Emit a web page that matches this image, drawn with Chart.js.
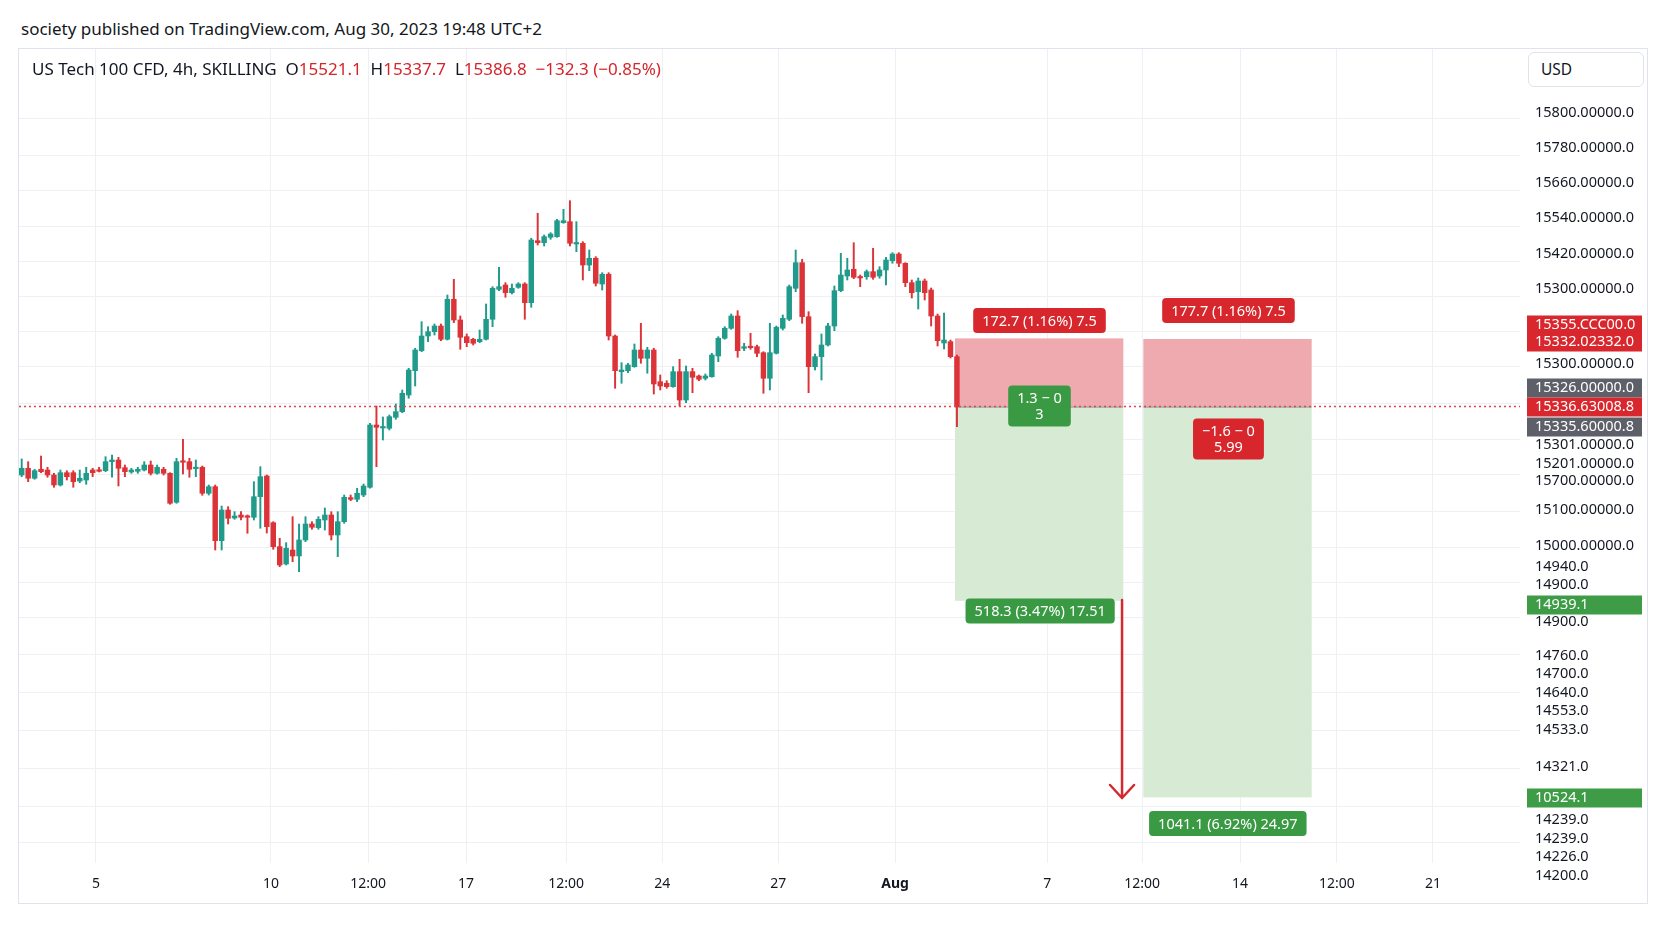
<!DOCTYPE html>
<html>
<head>
<meta charset="utf-8">
<script src="https://cdn.jsdelivr.net/npm/chart.js@4.4.0/dist/chart.umd.min.js"></script>
<style>
  body { margin: 0; background: #fff; width: 1672px; height: 941px; overflow: hidden; font-family: "Noto Sans", sans-serif; color: #131722; }
  #pub { position: absolute; left: 21px; top: 17px; font-size: 17px; line-height: 24px; white-space: pre; }
  #frame { position: absolute; left: 18px; top: 48px; width: 1628px; height: 854px; border: 1px solid #e0e3eb; }
  #legend { position: absolute; left: 13px; top: 8px; font-size: 17px; line-height: 24px; white-space: pre; }
  #legend .r { color: #d5252b; }
  #usd { position: absolute; left: 1509px; top: 3px; width: 102px; height: 33px; padding-left: 12px; border: 1px solid #e0e3eb; border-radius: 6px; font-size: 15.5px; line-height: 33px; background: #fff; }
  canvas { position: absolute; left: 0; top: 0; }
</style>
</head>
<body>
<div id="pub">society published on TradingView.com, Aug 30, 2023 19:48 UTC+2</div>
<div id="frame">
  <canvas id="chart" width="1628" height="854"></canvas>
  <div id="legend">US Tech 100 CFD, 4h, SKILLING  O<span class="r">15521.1</span>  H<span class="r">15337.7</span>  L<span class="r">15386.8</span>  <span class="r">−132.3 (−0.85%)</span></div>
  <div id="usd">USD</div>
</div>
<script>
// 4h candles
const opens = [
  15162.5, 15179.3, 15154.3, 15176.8, 15175, 15162.5, 15137.5, 15168.3, 15168.3, 15147.5,
  15150, 15175, 15175, 15173.3, 15195.8, 15200, 15180.8, 15170, 15171.8, 15175,
  15187.5, 15166.8, 15176.8, 15166.8, 15094.3, 15196.8, 15195.8, 15178.3, 15181.8, 15116.8,
  15133.3, 14998.3, 15075, 15055, 15062.5, 15060, 15056.8, 15108.3, 15160, 15043.3,
  14983.3, 14940, 14975, 14960, 15000, 15040, 15030.8, 15050, 15062.5, 15012.5,
  15045.8, 15105.8, 15101.8, 15112.5, 15131.8, 15287.5, 15280, 15279.3, 15306.8, 15320.8,
  15362.5, 15423.3, 15473.3, 15510, 15520.8, 15535, 15501.8, 15601.8, 15550, 15508.3,
  15501.8, 15495.8, 15501.8, 15551.8, 15626.8, 15637.5, 15618.3, 15631.8, 15640, 15593.3,
  15748.3, 15743.3, 15756.8, 15758.3, 15793.3, 15795.8, 15740, 15741.8, 15687.5, 15704.3,
  15640, 15664.3, 15510, 15420.8, 15423.3, 15433.3, 15475, 15454.3, 15475, 15395.8,
  15391.8, 15383.3, 15420.8, 15350, 15420.8, 15410, 15404.3, 15408.3, 15460, 15504.3,
  15529.3, 15560, 15479.3, 15483.3, 15483.3, 15468.3, 15404.3, 15466.8, 15529.3, 15551.8,
  15629.3, 15693.3, 15558.3, 15433.3, 15458.3, 15487.5, 15535, 15623.3, 15660, 15676.8,
  15658.3, 15658.3, 15670.8, 15660, 15675, 15698.3, 15715, 15691.8, 15643.3, 15620.8,
  15647.5, 15625, 15560, 15492.5, 15495.8, 15458.3
];
const highs = [
  15202.5, 15195.8, 15176.8, 15210, 15181.8, 15166.8, 15175, 15173.3, 15173.3, 15175,
  15181.8, 15179.3, 15181.8, 15208.3, 15212.5, 15206.8, 15187.5, 15179.3, 15181.8, 15195.8,
  15197.5, 15187.5, 15181.8, 15168.3, 15204.3, 15251.8, 15204.3, 15200, 15185, 15137.5,
  15137.5, 15085, 15083.3, 15070.8, 15070.8, 15062.5, 15145.8, 15183.3, 15162.5, 15045.8,
  15004.3, 14993.3, 15058.3, 15040, 15058.3, 15045.8, 15058.3, 15080, 15070.8, 15070.8,
  15112.5, 15112.5, 15129.3, 15140, 15291.8, 15335, 15307.5, 15312.5, 15340, 15375,
  15429.3, 15479.3, 15545.8, 15533.3, 15540, 15540, 15612.5, 15651.8, 15560, 15515,
  15504.3, 15525, 15590, 15633.3, 15681.8, 15643.3, 15640, 15643.3, 15643.3, 15754.3,
  15816.8, 15762.5, 15768.3, 15801.8, 15826.8, 15848.3, 15795.8, 15745.8, 15725, 15708.3,
  15668.3, 15668.3, 15512.5, 15443.3, 15441.8, 15490, 15541.8, 15481.8, 15479.3, 15412.5,
  15398.3, 15433.3, 15451.8, 15435, 15429.3, 15412.5, 15415, 15466.8, 15508.3, 15533.3,
  15565, 15573.3, 15491.8, 15516.8, 15487.5, 15470.8, 15541.8, 15535, 15562.5, 15637.5,
  15725, 15701.8, 15570.8, 15465, 15515, 15541.8, 15635, 15716.8, 15704.3, 15743.3,
  15662.5, 15675, 15729.3, 15683.3, 15706.8, 15718.3, 15718.3, 15693.3, 15650, 15655,
  15652.5, 15630, 15565, 15567.5, 15500, 15462.5
];
const lows = [
  15158.3, 15145.8, 15151.8, 15168.3, 15156.8, 15131.8, 15135, 15150, 15131.8, 15143.3,
  15139.3, 15158.3, 15170, 15170.8, 15156.8, 15135, 15158.3, 15166.8, 15166.8, 15172.5,
  15162.5, 15164.3, 15162.5, 15089.3, 15091.8, 15165, 15156.8, 15158.3, 15111.8, 15112.5,
  14975, 14975, 15040, 15051.8, 15050, 15016.8, 15050, 15029.3, 15017.5, 14976.8,
  14933.3, 14937.5, 14945.8, 14920.8, 14995.8, 15026.8, 15026.8, 15025, 15000, 14958.3,
  15041.8, 15098.3, 15095.8, 15108.3, 15129.3, 15183.3, 15250, 15275, 15301.8, 15318.3,
  15354.3, 15385, 15470.8, 15495.8, 15512.5, 15498.3, 15500, 15543.3, 15476.8, 15483.3,
  15487.5, 15493.3, 15500, 15533.3, 15623.3, 15606.8, 15615, 15629.3, 15551.8, 15581.8,
  15737.5, 15735, 15751.8, 15756.8, 15791.8, 15735, 15720.8, 15650, 15673.3, 15635,
  15625, 15500, 15379.3, 15391.8, 15418.3, 15431.8, 15441.8, 15416.8, 15365, 15375,
  15379.3, 15381.8, 15335, 15343.3, 15368.3, 15398.3, 15400, 15406.8, 15445.8, 15501.8,
  15526.8, 15456.8, 15473.3, 15476.8, 15458.3, 15366.8, 15375, 15465, 15525, 15548.3,
  15620.8, 15541.8, 15368.3, 15425, 15400, 15485, 15523.3, 15620.8, 15650, 15653.3,
  15633.3, 15651.8, 15651.8, 15654.3, 15637.5, 15691.8, 15683.3, 15633.3, 15605, 15577.5,
  15600, 15535, 15485, 15477.5, 15455, 15283.3
];
const closes = [
  15179.3, 15154.3, 15173.3, 15170.8, 15162.5, 15137.5, 15168.3, 15158.3, 15145.8, 15154.3,
  15166.8, 15168.3, 15171.8, 15195.8, 15200, 15179.3, 15170.8, 15175, 15176.8, 15187.5,
  15166.8, 15181.8, 15166.8, 15091.8, 15195.8, 15194.3, 15176.8, 15181.8, 15116.8, 15133.3,
  14998.3, 15075, 15054.3, 15060, 15056.8, 15056.8, 15108.3, 15158.3, 15033.3, 14983.3,
  14937.5, 14979.3, 14960, 15000, 15040, 15031.8, 15051.8, 15062.5, 15012.5, 15045.8,
  15106.8, 15101.8, 15116.8, 15135, 15287.5, 15281.8, 15283.3, 15308.3, 15320.8, 15366.8,
  15425, 15475, 15510, 15520.8, 15535, 15501.8, 15601.8, 15550, 15506.8, 15493.3,
  15491.8, 15501.8, 15551.8, 15629.3, 15633.3, 15618.3, 15629.3, 15640, 15593.3, 15750,
  15743.3, 15758.3, 15765, 15798.3, 15798.3, 15741.8, 15743.3, 15687.5, 15704.3, 15641.8,
  15664.3, 15510, 15423.3, 15425, 15437.5, 15475, 15454.3, 15475, 15390, 15385,
  15383.3, 15420.8, 15350, 15420.8, 15406.8, 15401.8, 15410, 15462.5, 15504.3, 15529.3,
  15560, 15473.3, 15483.3, 15480.8, 15466.8, 15404.3, 15468.3, 15531.8, 15554.3, 15633.3,
  15693.3, 15558.3, 15433.3, 15458.3, 15487.5, 15535, 15623.3, 15662.5, 15675, 15656.8,
  15655, 15670.8, 15656.8, 15675, 15700, 15715, 15691.8, 15643.3, 15618.3, 15647.5,
  15618.3, 15560, 15498.3, 15500, 15458.3, 15333.3
];

const lastPrice = 15333.75;

// time axis (bar index) and its labels
const timeTickPos = [11.5, 38.65, 53.7, 68.9, 84.4, 99.3, 117.3, 135.4, 159.0, 173.7, 188.9, 203.9, 218.8];
const timeTickLabels = ['5', '10', '12:00', '17', '12:00', '24', '27', 'Aug', '7', '12:00', '14', '12:00', '21'];

// price axis labels, as printed
const priceTickPos = [
  16067.5, 15980, 15892.5, 15805, 15715, 15627.5, 15537.5, 15495, 15440, 15380,
  15332.5, 15282.5, 15237.5, 15190, 15147.5, 15075, 14985, 14932.5, 14887.5, 14837.5,
  14795, 14710, 14665, 14617.5, 14572.5, 14525, 14432.5, 14355, 14300, 14252.5,
  14207.5, 14160
];
const priceTickLabels = [
  '15800.00000.0', '15780.00000.0', '15660.00000.0', '15540.00000.0', '15420.00000.0', '15300.00000.0',
  '15355.CCC00.0', '15332.02332.0', '15300.00000.0', '15326.00000.0', '15336.63008.8', '15335.60000.8',
  '15301.00000.0', '15201.00000.0', '15700.00000.0', '15100.00000.0', '15000.00000.0',
  '14940.0', '14900.0', '14939.1', '14900.0', '14760.0', '14700.0', '14640.0', '14553.0',
  '14533.0', '14321.0', '10524.1', '14239.0', '14239.0', '14226.0', '14200.0'
];
const priceTickBadge = [
  null, null, null, null, null, null, '#d9272e', '#d9272e', null, '#5d6068',
  '#d9272e', '#5d6068', null, null, null, null, null, null, null, '#3f9c46',
  null, null, null, null, null, null, null, '#3f9c46', null, null, null, null
];
const gridPrices = [
  16052.5, 15962.5, 15875, 15785, 15697.5, 15607.5, 15520, 15432.5, 15342.5, 15252.5,
  15162.5, 15072.5, 14982.5, 14895, 14807.5, 14715, 14620, 14525, 14430, 14335, 14245
];

// short position tools: [left bar, right bar], stop, entry, target
const boxLeft = [144.7, 173.9];
const boxRight = [170.8, 200.0];
const boxStop = [15504, 15502.5];
const boxEntry = [15333.75, 15333.75];
const boxTarget = [14848, 14356.5];

const noteText = ['172.7 (1.16%) 7.5', '177.7 (1.16%) 7.5', '1.3 − 0\n3', '−1.6 − 0\n5.99', '518.3 (3.47%) 17.51', '1041.1 (6.92%) 24.97'];
const noteX = [157.8, 187.1, 157.8, 187.1, 157.9, 187.0];
const noteY = [15548.8, 15573.8, 15335, 15252.5, 14822.5, 14291.3];
const noteColor = ['#d8262d', '#d8262d', '#3a9a44', '#d8262d', '#3a9a44', '#3a9a44'];

const arrowX = 170.6;
const arrowFrom = 14850;
const arrowTo = 14355;

const UP = '#1f9a8b';
const DOWN = '#dc3338';
const GRID = '#eef0f3';
const PRICE_MIN = 14192.5;
const PRICE_MAX = 16227.5;

Chart.defaults.font.family = '"Noto Sans", sans-serif';
Chart.defaults.color = '#131722';

const candleColors = opens.map((o, i) => closes[i] >= o ? UP : DOWN);

function noPadding(s) {
  s.paddingTop = 0;
  s.paddingBottom = 0;
  s.paddingLeft = 0;
  s.paddingRight = 0;
}

const tradePlugin = {
  id: 'trade',
  beforeDraw(chart) {
    // coloured badges behind some price labels
    const s = chart.scales.yl;
    const ctx = chart.ctx;
    ctx.save();
    priceTickPos.forEach((v, i) => {
      if (!priceTickBadge[i]) return;
      const py = s.getPixelForValue(v);
      ctx.fillStyle = priceTickBadge[i];
      ctx.fillRect(s.left + 7, py - 9.5, 115, 19);
    });
    ctx.restore();
  },
  beforeDatasetsDraw(chart) {
    const { x, y } = chart.scales;
    const ctx = chart.ctx;
    ctx.save();
    for (let i = 0; i < boxLeft.length; i++) {
      const x0 = x.getPixelForValue(boxLeft[i]);
      const x1 = x.getPixelForValue(boxRight[i]);
      const yS = y.getPixelForValue(boxStop[i]);
      const yE = y.getPixelForValue(boxEntry[i]);
      const yT = y.getPixelForValue(boxTarget[i]);
      ctx.fillStyle = '#eeaaae';
      ctx.fillRect(x0, yS, x1 - x0, yE - yS);
      ctx.fillStyle = '#d6ead4';
      ctx.fillRect(x0, yE, x1 - x0, yT - yE);
      ctx.strokeStyle = 'rgba(110,112,120,0.8)';
      ctx.lineWidth = 1;
      ctx.beginPath();
      ctx.moveTo(x0, yE + 0.5);
      ctx.lineTo(x1, yE + 0.5);
      ctx.stroke();
    }
    ctx.restore();
  },
  afterDatasetsDraw(chart) {
    const { x, y } = chart.scales;
    const ctx = chart.ctx;
    ctx.save();
    // arrow
    const ax = x.getPixelForValue(arrowX);
    const ay0 = y.getPixelForValue(arrowFrom);
    const ay1 = y.getPixelForValue(arrowTo);
    ctx.strokeStyle = '#d42a2f';
    ctx.lineWidth = 2.5;
    ctx.lineCap = 'round';
    ctx.beginPath();
    ctx.moveTo(ax, ay0);
    ctx.lineTo(ax, ay1);
    ctx.moveTo(ax - 12, ay1 - 13);
    ctx.lineTo(ax, ay1);
    ctx.lineTo(ax + 12, ay1 - 13);
    ctx.stroke();

    // labels of the position tools
    ctx.font = '14.5px "Noto Sans", sans-serif';
    ctx.textAlign = 'center';
    ctx.textBaseline = 'middle';
    noteText.forEach((t, i) => {
      const lines = t.split('\n');
      const w = Math.max(...lines.map(l => ctx.measureText(l).width)) + 18;
      const h = lines.length > 1 ? 41 : 25;
      const cx = x.getPixelForValue(noteX[i]);
      const cy = y.getPixelForValue(noteY[i]);
      ctx.fillStyle = noteColor[i];
      ctx.beginPath();
      ctx.roundRect(cx - w / 2, cy - h / 2, w, h, 4);
      ctx.fill();
      ctx.fillStyle = '#fff';
      lines.forEach((l, k) => {
        ctx.fillText(l, cx, cy + 1 + (k - (lines.length - 1) / 2) * 16);
      });
    });
    ctx.restore();
  }
};

new Chart(document.getElementById('chart'), {
  type: 'bar',
  data: {
    datasets: [
      {
        label: 'wick',
        data: opens.map((o, i) => ({ x: i, y: [lows[i], highs[i]] })),
        backgroundColor: candleColors,
        barThickness: 1.3,
        grouped: false,
        yAxisID: 'y',
        order: 2
      },
      {
        label: 'body',
        data: opens.map((o, i) => ({ x: i, y: [o, closes[i]] })),
        backgroundColor: candleColors,
        barThickness: 4.8,
        minBarLength: 1.5,
        grouped: false,
        yAxisID: 'y',
        order: 1
      },
      {
        type: 'line',
        label: 'last',
        data: [{ x: -0.42, y: lastPrice }, { x: 232.3, y: lastPrice }],
        borderColor: '#e0454a',
        borderWidth: 1.3,
        borderDash: [2, 3],
        pointRadius: 0,
        yAxisID: 'y',
        order: 0
      }
    ]
  },
  options: {
    responsive: false,
    animation: false,
    events: [],
    layout: { padding: 0 },
    plugins: { legend: { display: false }, tooltip: { enabled: false } },
    scales: {
      x: {
        type: 'linear',
        offset: false,
        min: -0.42,
        max: 232.3,
        afterBuildTicks: s => { s.ticks = timeTickPos.map(v => ({ value: v })); },
        afterFit: s => { s.height = 40; noPadding(s); },
        ticks: {
          autoSkip: false,
          maxRotation: 0,
          padding: 13,
          font: ctx => ({ size: 14, weight: timeTickLabels[ctx.index] === 'Aug' ? 'bold' : 'normal' }),
          callback: (v, i) => timeTickLabels[i]
        },
        grid: { color: GRID, drawTicks: false, offset: false },
        border: { display: false }
      },
      y: {
        type: 'linear',
        position: 'left',
        min: PRICE_MIN,
        max: PRICE_MAX,
        afterBuildTicks: s => { s.ticks = gridPrices.map(v => ({ value: v })); },
        afterFit: s => { s.width = 0; noPadding(s); },
        ticks: { display: false },
        grid: { color: GRID, drawTicks: false },
        border: { display: false }
      },
      yl: {
        type: 'linear',
        position: 'right',
        min: PRICE_MIN,
        max: PRICE_MAX,
        afterBuildTicks: s => { s.ticks = priceTickPos.map(v => ({ value: v })); },
        afterFit: s => { s.width = 127; noPadding(s); },
        ticks: {
          autoSkip: false,
          padding: 15,
          font: { size: 14.5 },
          color: ctx => priceTickBadge[ctx.index] ? '#ffffff' : '#131722',
          callback: (v, i) => priceTickLabels[i]
        },
        grid: { display: false, drawTicks: false },
        border: { display: false }
      }
    }
  },
  plugins: [tradePlugin]
});
</script>
</body>
</html>
